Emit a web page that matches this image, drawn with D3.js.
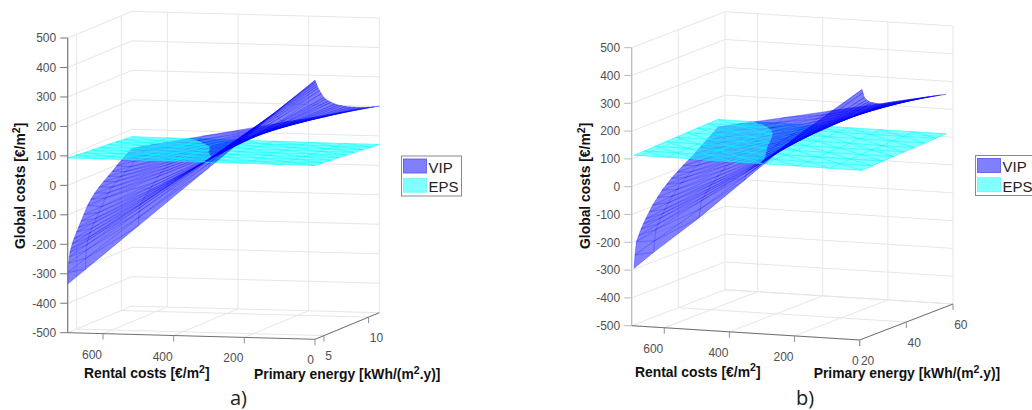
<!DOCTYPE html>
<html lang="en">
<head>
<meta charset="utf-8">
<title>Global costs VIP vs EPS</title>
<script src="https://d3js.org/d3.v7.min.js"></script>
<style>
  html, body { margin: 0; padding: 0; background: #fff; overflow: hidden; }
  text { font-family: "Liberation Sans", Arial, sans-serif; }
  .tick { font-size: 12px; fill: #505050; }
  .label { font-size: 13.9px; font-weight: bold; fill: #111; }
  .legend { font-size: 15px; fill: #222; }
  .panel { font-family: "Open Sans", sans-serif; font-size: 20px; fill: #222; }
</style>
</head>
<body>
<svg id="chart" width="1032" height="410"></svg>
<script>
// tick labels
var costTicks = [-500, -400, -300, -200, -100, 0, 100, 200, 300, 400, 500];
var rentalTicks = [0, 200, 400, 600];
var energyTicksA = [5, 10];
var energyTicksB = [20, 40, 60];

// panel a) VIP surface
var vipRentalA = [0, 120, 300, 500, 650, 700];
var vipEnergyA = [4, 4.05, 4.1, 4.18, 4.25, 4.35, 4.5, 4.7, 5, 5.2, 5.5, 5.8, 6.25, 6.6, 7, 7.5, 8, 8.5, 9, 9.5, 10, 10.6, 11.2];
var vipCostA = [
  [379, 257, 73, -131, -284, -335],
  [375, 260, 88, -103, -247, -295],
  [370, 261, 98, -84, -220, -265],
  [363, 259, 102, -71, -202, -245],
  [356, 256, 105, -62, -188, -230],
  [348, 251, 104, -58, -180, -220],
  [338, 245, 105, -50, -166, -205],
  [325, 237, 104, -43, -153, -190],
  [308, 226, 103, -34, -137, -171],
  [300, 222, 104, -27, -125, -158],
  [290, 216, 106, -17, -109, -140],
  [282, 213, 109, -6, -93, -122],
  [270, 207, 113, 9, -69, -95],
  [262, 204, 115, 18, -56, -80],
  [255, 200, 118, 27, -42, -65],
  [246, 195, 119, 35, -29, -50],
  [238, 191, 120, 41, -18, -38],
  [231, 187, 121, 48, -8, -26],
  [224, 183, 121, 53, 2, -15],
  [218, 180, 124, 61, 14, -2],
  [212, 177, 125, 68, 24, 10],
  [206, 175, 127, 75, 36, 23],
  [201, 173, 130, 83, 48, 36]
];

// panel a) EPS surface
var epsRentalA = [0, 100, 200, 300, 400, 500, 600, 700];
var epsEnergyA = [4, 4.9, 5.8, 6.7, 7.6, 8.5, 9.4, 10.3, 11.2];
var epsCostA = [
  [90, 90, 91, 91, 92, 92, 93, 93],
  [88, 88, 88, 89, 89, 90, 90, 91],
  [85, 85, 86, 87, 87, 88, 88, 88],
  [83, 83, 84, 84, 85, 85, 85, 86],
  [80, 80, 81, 82, 82, 83, 83, 84],
  [78, 78, 79, 80, 81, 81, 82, 82],
  [76, 76, 77, 77, 78, 78, 79, 80],
  [73, 73, 74, 74, 75, 76, 76, 77],
  [71, 71, 72, 72, 73, 74, 74, 75]
];

// panel b) VIP surface
var vipRentalB = [0, 175, 360, 500, 640, 700];
var vipEnergyB = [21, 21.4, 22, 23, 24, 25, 26, 27.5, 29, 31, 33, 35, 37, 39.5, 42, 44.5, 47, 49.5, 52, 54.5, 57];
var vipCostB = [
  [398, 239, 46, -100, -235, -297],
  [385, 232, 60, -70, -195, -250],
  [366, 223, 72, -42, -156, -205],
  [354, 219, 77, -31, -139, -185],
  [345, 218, 83, -19, -121, -165],
  [338, 216, 87, -10, -108, -150],
  [334, 217, 93, 1, -95, -135],
  [326, 216, 99, 11, -77, -115],
  [320, 216, 107, 24, -59, -95],
  [316, 218, 115, 37, -41, -75],
  [312, 220, 123, 50, -23, -55],
  [308, 221, 129, 60, -10, -40],
  [304, 222, 135, 69, 3, -25],
  [299, 222, 140, 78, 17, -10],
  [294, 222, 145, 88, 30, 5],
  [289, 221, 150, 96, 41, 18],
  [284, 221, 154, 104, 54, 32],
  [279, 221, 160, 113, 67, 47],
  [274, 221, 166, 123, 81, 63],
  [269, 221, 171, 133, 94, 78],
  [264, 222, 177, 143, 110, 95]
];

// panel b) EPS surface
var epsRentalB = [0, 100, 200, 300, 400, 500, 600, 700];
var epsEnergyB = [21, 25.5, 30, 34.5, 39, 43.5, 48, 52.5, 57];
var epsCostB = [
  [107, 107, 108, 108, 109, 109, 110, 110],
  [109, 109, 109, 110, 110, 111, 111, 111],
  [111, 111, 111, 111, 112, 112, 113, 113],
  [113, 113, 113, 113, 114, 114, 114, 115],
  [115, 115, 115, 115, 115, 116, 116, 116],
  [116, 116, 117, 117, 117, 117, 118, 118],
  [118, 118, 119, 119, 119, 119, 119, 120],
  [120, 120, 120, 121, 121, 121, 121, 121],
  [122, 122, 122, 122, 122, 122, 122, 122]
];

var legendNames = ["VIP", "EPS"];

var svg = d3.select("#chart");

// splits a surface into triangles and mesh edges
function buildMesh(rentals, energies, costs) {
  var pt = function (i, j) { return { r: rentals[j], p: energies[i], z: costs[i][j] }; };
  var tris = [], edges = [];
  energies.forEach(function (e, i) {
    rentals.forEach(function (c, j) {
      if (j < rentals.length - 1) edges.push([pt(i, j), pt(i, j + 1)]);
      if (i < energies.length - 1) edges.push([pt(i, j), pt(i + 1, j)]);
      if (i < energies.length - 1 && j < rentals.length - 1) {
        edges.push([pt(i, j), pt(i + 1, j + 1)]);
        tris.push([pt(i, j), pt(i, j + 1), pt(i + 1, j + 1)]);
        tris.push([pt(i, j), pt(i + 1, j + 1), pt(i + 1, j)]);
      }
    });
  });
  return { tris: tris, edges: edges };
}

function drawPanel(cfg) {
  var g = svg.append("g");
  var R = d3.scaleLinear().domain([0, 700]).range([0, 1]);
  var P = d3.scaleLinear().domain(cfg.energyDomain).range([0, 1]);
  var Z = d3.scaleLinear().domain([-500, 500]).range([0, -cfg.zHeight]);
  var f = cfg.front, l = cfg.left, rt = cfg.right;

  function project(d) {
    return [
      f[0] + R(d.r) * (l[0] - f[0]) + P(d.p) * (rt[0] - f[0]),
      f[1] + R(d.r) * (l[1] - f[1]) + P(d.p) * (rt[1] - f[1]) + Z(d.z)
    ];
  }
  var line = d3.line().x(function (d) { return project(d)[0]; }).y(function (d) { return project(d)[1]; });
  var pMin = cfg.energyDomain[0], pMax = cfg.energyDomain[1];

  function seg(pts, stroke, width) {
    g.append("path").attr("d", line(pts)).attr("fill", "none").attr("stroke", stroke).attr("stroke-width", width);
  }

  // grid on the floor and the two back walls
  rentalTicks.forEach(function (r) {
    seg([{ r: r, p: pMin, z: -500 }, { r: r, p: pMax, z: -500 }, { r: r, p: pMax, z: 500 }], "#e6e6e6", 1);
  });
  cfg.energyTicks.forEach(function (p) {
    seg([{ r: 0, p: p, z: -500 }, { r: 700, p: p, z: -500 }, { r: 700, p: p, z: 500 }], "#e6e6e6", 1);
  });
  costTicks.forEach(function (z) {
    seg([{ r: 700, p: pMin, z: z }, { r: 700, p: pMax, z: z }, { r: 0, p: pMax, z: z }], "#e6e6e6", 1);
  });

  // height of the EPS surface, used to split VIP into below / above parts
  function epsHeight(r, p) {
    var byEnergy = cfg.epsCost.map(function (row) {
      return d3.scaleLinear().domain(cfg.epsRental).range(row)(r);
    });
    return d3.scaleLinear().domain(cfg.epsEnergy).range(byEnergy)(p);
  }
  function side(d) { return d.z - epsHeight(d.r, d.p); }
  function cut(a, b) {
    var t = side(a) / (side(a) - side(b));
    return { r: a.r + (b.r - a.r) * t, p: a.p + (b.p - a.p) * t, z: a.z + (b.z - a.z) * t };
  }
  function clip(poly, sign) {
    var out = [];
    poly.forEach(function (a, i) {
      var b = poly[(i + 1) % poly.length];
      var ina = sign * side(a) >= 0, inb = sign * side(b) >= 0;
      if (ina) out.push(a);
      if (ina !== inb) out.push(cut(a, b));
    });
    return out;
  }
  function clipEdge(e, sign) {
    var ina = sign * side(e[0]) >= 0, inb = sign * side(e[1]) >= 0;
    if (ina && inb) return e;
    if (!ina && !inb) return null;
    var c = cut(e[0], e[1]);
    return ina ? [e[0], c] : [c, e[1]];
  }

  var vip = buildMesh(cfg.vipRental, cfg.vipEnergy, cfg.vipCost);
  var eps = buildMesh(cfg.epsRental, cfg.epsEnergy, cfg.epsCost);

  function drawVip(sign) {
    var layer = g.append("g");
    vip.tris.forEach(function (t) {
      var poly = clip(t, sign);
      if (poly.length < 3) return;
      layer.append("path").attr("d", line(poly) + "Z").attr("fill", "#0000ff").attr("fill-opacity", 0.5);
    });
    vip.edges.forEach(function (e) {
      var piece = clipEdge(e, sign);
      if (!piece) return;
      layer.append("path").attr("d", line(piece)).attr("fill", "none")
        .attr("stroke", "#0000ff").attr("stroke-opacity", 0.5).attr("stroke-width", 0.6);
    });
  }

  drawVip(-1);
  var epsLayer = g.append("g");
  eps.tris.forEach(function (t) {
    epsLayer.append("path").attr("d", line(t) + "Z").attr("fill", "#00ffff").attr("fill-opacity", 0.5);
  });
  eps.edges.forEach(function (e) {
    epsLayer.append("path").attr("d", line(e)).attr("fill", "none")
      .attr("stroke", "#00ffff").attr("stroke-opacity", 0.8).attr("stroke-width", 0.7);
  });
  drawVip(1);

  // axes
  seg([{ r: 700, p: pMin, z: -500 }, { r: 700, p: pMin, z: 500 }], cfg.zAxisColor, 1.2);
  seg([{ r: 700, p: pMin, z: -500 }, { r: 0, p: pMin, z: -500 }], "#707070", 1);
  seg([{ r: 0, p: pMin, z: -500 }, { r: 0, p: pMax, z: -500 }], "#707070", 1);

  costTicks.forEach(function (z) {
    var c = project({ r: 700, p: pMin, z: z });
    g.append("line").attr("x1", c[0] - 7.5).attr("x2", c[0]).attr("y1", c[1]).attr("y2", c[1])
      .attr("stroke", cfg.zAxisColor);
    g.append("text").attr("class", "tick").attr("x", c[0] - 11.5).attr("y", c[1] + 4.3)
      .attr("text-anchor", "end").text(z);
  });
  rentalTicks.forEach(function (r) {
    var c = project({ r: r, p: pMin, z: -500 });
    g.append("line").attr("x1", c[0]).attr("x2", c[0]).attr("y1", c[1]).attr("y2", c[1] + 6).attr("stroke", "#909090");
    g.append("text").attr("class", "tick").attr("x", c[0] - 1).attr("y", c[1] + 25)
      .attr("text-anchor", "end").text(r);
  });
  cfg.energyTicks.forEach(function (p) {
    var c = project({ r: 0, p: p, z: -500 });
    g.append("line").attr("x1", c[0]).attr("x2", c[0]).attr("y1", c[1]).attr("y2", c[1] + 6).attr("stroke", "#909090");
    g.append("text").attr("class", "tick").attr("x", c[0] + 1.2).attr("y", c[1] + 24.6)
      .attr("text-anchor", "start").text(p);
  });

  // axis titles with superscript
  function title(x, y, before, after, rotate) {
    var t = g.append("text").attr("class", "label");
    if (rotate) t.attr("transform", "translate(" + x + "," + y + ") rotate(-90)");
    else t.attr("x", x).attr("y", y);
    t.append("tspan").text(before);
    t.append("tspan").attr("dy", -5.5).attr("font-size", 10.5).text("2");
    t.append("tspan").attr("dy", 5.5).text(after);
  }
  title(cfg.zTitle[0], cfg.zTitle[1], "Global costs [€/m", "]", true);
  title(cfg.rentalTitle[0], cfg.rentalTitle[1], "Rental costs [€/m", "]");
  title(cfg.energyTitle[0], cfg.energyTitle[1], "Primary energy [kWh/(m", ".y)]");

  g.append("text").attr("class", "panel").attr("x", cfg.panelLabel[0]).attr("y", cfg.panelLabel[1]).text(cfg.name);

  // legend
  var lg = g.append("g").attr("transform", "translate(" + cfg.legend[0] + "," + cfg.legend[1] + ")");
  lg.append("rect").attr("x", 0.5).attr("y", 0.5).attr("width", 60).attr("height", 40)
    .attr("fill", "#fff").attr("stroke", "#8a8a8a");
  legendNames.forEach(function (name, i) {
    lg.append("rect").attr("x", 2.5).attr("y", 3.5 + i * 19.2).attr("width", 23).attr("height", 14)
      .attr("fill", i ? "#80ffff" : "#8080ff").attr("stroke", i ? "#66f5f5" : "#5050ee").attr("stroke-width", 0.8);
    lg.append("text").attr("class", "legend").attr("x", 27.5).attr("y", 17 + i * 19.6).text(name);
  });
}

drawPanel({
  name: "a)",
  front: [315, 339.3], left: [67.7, 332.7], right: [379.3, 312.7], zHeight: 294.7,
  energyDomain: [4, 11.2], energyTicks: energyTicksA,
  vipRental: vipRentalA, vipEnergy: vipEnergyA, vipCost: vipCostA,
  epsRental: epsRentalA, epsEnergy: epsEnergyA, epsCost: epsCostA,
  zAxisColor: "#777777",
  zTitle: [25, 249], rentalTitle: [84, 378], energyTitle: [254, 379],
  panelLabel: [230, 405], legend: [401, 155.5]
});

drawPanel({
  name: "b)",
  front: [859.7, 340], left: [631.7, 325.7], right: [953, 304], zHeight: 278,
  energyDomain: [20, 60], energyTicks: energyTicksB,
  vipRental: vipRentalB, vipEnergy: vipEnergyB, vipCost: vipCostB,
  epsRental: epsRentalB, epsEnergy: epsEnergyB, epsCost: epsCostB,
  zAxisColor: "#bbbbbb",
  zTitle: [590, 249], rentalTitle: [635, 376.7], energyTitle: [813.7, 378],
  panelLabel: [796, 405], legend: [975, 155]
});
</script>
</body>
</html>
